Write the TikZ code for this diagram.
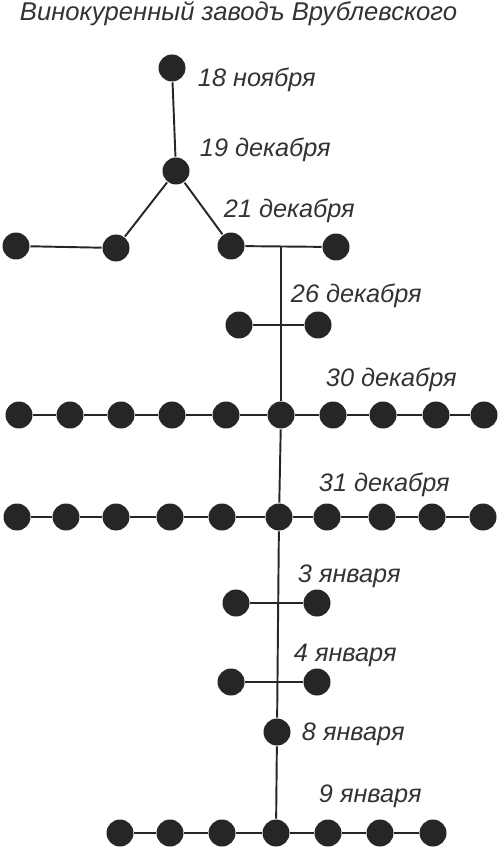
\documentclass[tikz,border=0pt]{standalone}
\usepackage{fontspec}
\setmainfont{Liberation Sans}

\begin{document}
\begin{tikzpicture}[x=0.02cm, y=-0.02cm, line width=1.1pt, draw=black!85,
    bead/.style={circle, fill=black!85, minimum size=0.54cm, inner sep=0pt},
    date/.style={anchor=base west, inner sep=0pt, text=black!80, font=\itshape\fontsize{14.4}{16}\selectfont}]
    \useasboundingbox (0,0) rectangle (500,854);
    \node[date, font=\itshape\fontsize{14.6}{16}\selectfont] (title) at (19,21) {Винокуренный заводъ Врублевского};

    \node[bead] (n18) at (172,68) {};
    \node[bead] (n19) at (176,171) {};
    \node[bead] (l1) at (16,246) {};
    \node[bead] (l2) at (116,248) {};
    \node[bead] (r1) at (231,246) {};
    \node[bead] (r2) at (336,247) {};
    \coordinate (top) at (281,247);
    \draw (n18) -- (n19);
    \draw (n19) -- (l2);
    \draw (n19) -- (r1);
    \draw (l1) -- (l2);
    \draw (r1) -- (r2);

    \node[bead] (d26a) at (239,325) {};
    \node[bead] (d26b) at (318,325) {};
    \draw (d26a) -- (d26b);

    \foreach \x [count=\i] in {19,70,121,172,226,281,333,383,436,484}
        \node[bead] (d30-\i) at (\x,415) {};
    \foreach \i [count=\j from 2] in {1,...,9}
        \draw (d30-\i) -- (d30-\j);

    \foreach \x [count=\i] in {17,66,116,170,222,279,327,382,432,483}
        \node[bead] (d31-\i) at (\x,517) {};
    \foreach \i [count=\j from 2] in {1,...,9}
        \draw (d31-\i) -- (d31-\j);

    \node[bead] (j3a) at (236,603) {};
    \node[bead] (j3b) at (317,603) {};
    \draw (j3a) -- (j3b);
    \node[bead] (j4a) at (231,682) {};
    \node[bead] (j4b) at (317,682) {};
    \draw (j4a) -- (j4b);
    \node[bead] (j8) at (277,732) {};

    \foreach \x [count=\i] in {120,170,222,276,328,380,433}
        \node[bead] (j9-\i) at (\x,833) {};
    \foreach \i [count=\j from 2] in {1,...,6}
        \draw (j9-\i) -- (j9-\j);

    \draw (top) -- (d30-6);
    \draw (d30-6) -- (d31-6);
    \draw (d31-6) -- (j8);
    \draw (j8) -- (j9-4);

    \node[date] at (197,87) {18 ноября};
    \node[date] at (199,157) {19 декабря};
    \node[date] at (223,218) {21 декабря};
    \node[date] at (290,303) {26 декабря};
    \node[date] at (325,386) {30 декабря};
    \node[date] at (318,491) {31 декабря};
    \node[date] at (297,582) {3 января};
    \node[date] at (293,661) {4 января};
    \node[date] at (301,740) {8 января};
    \node[date] at (318,802) {9 января};
\end{tikzpicture}
\end{document}
